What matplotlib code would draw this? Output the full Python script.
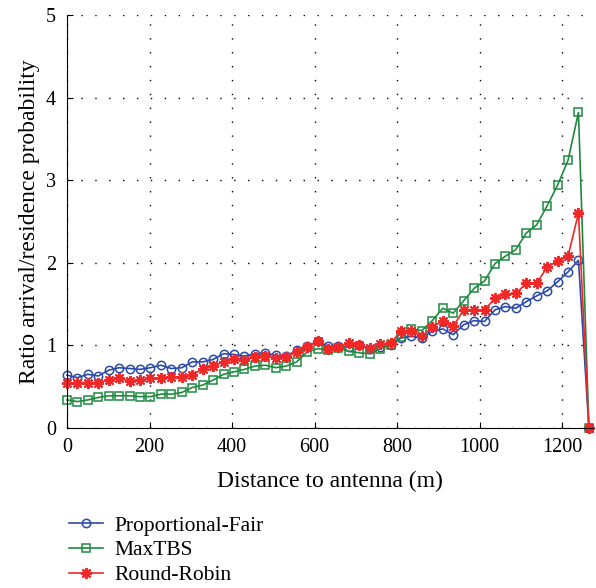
import numpy as np
import matplotlib.pyplot as plt

# distance to antenna (m), 51 sample points
distance = np.arange(51) * 25.3

prop_fair = [0.64, 0.61, 0.65, 0.63, 0.70, 0.73, 0.72, 0.71, 0.73, 0.76,
             0.72, 0.73, 0.80, 0.80, 0.83, 0.90, 0.89, 0.87, 0.90, 0.91,
             0.88, 0.87, 0.94, 0.99, 1.05, 0.99, 0.99, 0.98, 1.00, 0.96,
             0.98, 1.00, 1.09, 1.11, 1.09, 1.17, 1.20, 1.13, 1.25, 1.30,
             1.29, 1.43, 1.47, 1.45, 1.53, 1.60, 1.66, 1.77, 1.89, 2.03,
             0.0]
max_tbs = [0.34, 0.32, 0.34, 0.37, 0.39, 0.39, 0.39, 0.38, 0.38, 0.41,
           0.41, 0.43, 0.49, 0.52, 0.58, 0.65, 0.68, 0.71, 0.75, 0.76,
           0.73, 0.75, 0.80, 0.92, 0.96, 0.95, 0.97, 0.93, 0.91, 0.90,
           0.96, 1.01, 1.10, 1.20, 1.18, 1.30, 1.45, 1.39, 1.54, 1.69,
           1.78, 1.99, 2.08, 2.16, 2.36, 2.46, 2.69, 2.94, 3.24, 3.82,
           0.0]
round_robin = [0.54, 0.55, 0.55, 0.55, 0.58, 0.60, 0.57, 0.58, 0.60, 0.61,
               0.62, 0.62, 0.64, 0.72, 0.75, 0.80, 0.84, 0.82, 0.86, 0.87,
               0.85, 0.86, 0.92, 0.98, 1.05, 0.96, 0.98, 1.03, 1.00, 0.97,
               1.02, 1.03, 1.17, 1.17, 1.11, 1.22, 1.30, 1.23, 1.43, 1.43,
               1.43, 1.57, 1.62, 1.63, 1.75, 1.75, 1.95, 2.02, 2.08, 2.60,
               0.0]

plt.rcParams['font.family'] = ['Liberation Serif', 'DejaVu Serif']

fig = plt.figure(figsize=(5.96, 5.88), dpi=100)
ax = fig.add_axes([0.1124, 0.2721, 0.8826, 0.7024])

ax.plot(distance, prop_fair, color='#2b4aa8', lw=1.2, marker='o',
        ms=6, mfc='none', mew=1.1, label='Proportional-Fair', clip_on=False)
ax.plot(distance, max_tbs, color='#1e8a40', lw=1.2, marker='s',
        ms=6, mfc='none', mew=1.1, label='MaxTBS', clip_on=False)
ax.plot(distance, round_robin, color='#f02828', lw=1.2, marker=(8, 2, 0),
        ms=8, mew=1.4, label='Round-Robin', clip_on=False)

ax.set_xlim(0, 1275)
ax.set_ylim(0, 5)
ax.set_xticks([0, 200, 400, 600, 800, 1000, 1200])
ax.set_yticks([0, 1, 2, 3, 4, 5])
ax.tick_params(direction='in', labelsize=14.5, length=4)
ax.tick_params(axis='x', pad=7)
ax.tick_params(axis='y', pad=8)
ax.grid(True, color='black', linestyle=(0, (1, 9)), linewidth=1.0)
for s in ['top', 'right']:
    ax.spines[s].set_visible(False)

ax.set_xlabel('Distance to antenna (m)', fontsize=17, labelpad=10)
ax.set_ylabel('Ratio arrival/residence probability', fontsize=17, labelpad=4)

fig.legend(loc='upper left', bbox_to_anchor=(0.101, 0.138), frameon=False,
           fontsize=15.5, handlelength=1.6, handletextpad=0.5, labelspacing=0.22,
           borderaxespad=0)

fig.savefig('out.png', dpi=100)
